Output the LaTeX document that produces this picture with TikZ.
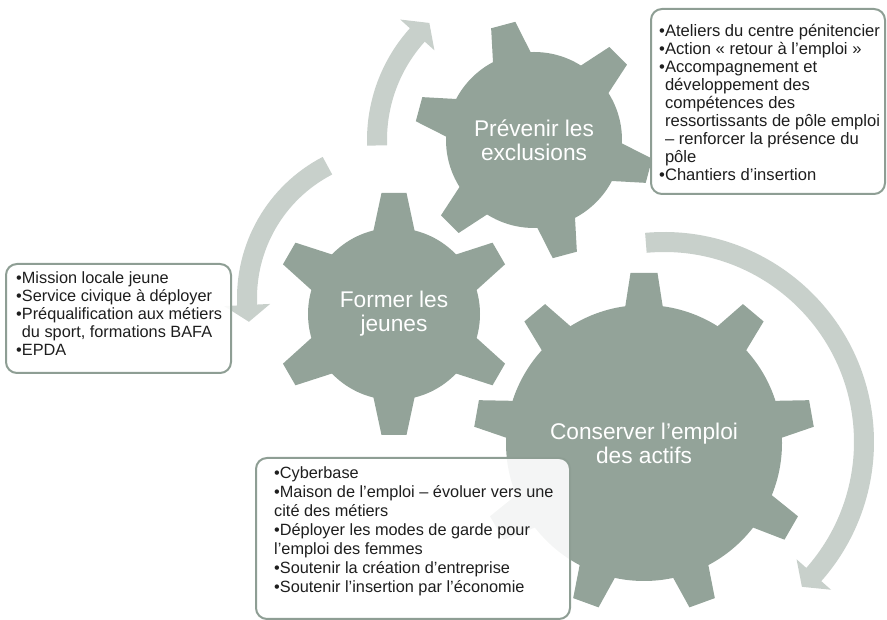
\documentclass[tikz,border=0pt]{standalone}
\usepackage{fontspec}
\setmainfont{Liberation Sans}
\usetikzlibrary{calc}

\definecolor{gearfill}{HTML}{93A399}
\definecolor{arrowfill}{HTML}{C8D0CB}
\definecolor{boxline}{HTML}{8E9E94}
\definecolor{boxtext}{HTML}{1E1E1E}

% gear: centre, body radius, outer radius, number of teeth, first tooth angle,
% half width at the tip, half width at the root
\newcommand\gearshape[7]{%
  \begin{scope}[shift={(#1)}]
    \fill[gearfill] (0,0) circle[radius=#2];
    \pgfmathsetmacro\gstep{360/#4}
    \pgfmathsetmacro\wext{#7+(#7-#6)*10/(#3-#2)}
    \foreach \k in {1,...,#4}{
      \pgfmathsetmacro\ga{#5+(\k-1)*\gstep}
      \fill[gearfill, rotate=\ga] (#2-10,-\wext) -- (#3,-#6) -- (#3,#6) -- (#2-10,\wext) -- cycle;
    }
  \end{scope}}

% curved arrow: centre, radius, start angle, end of shaft, head base angle, tip angle
\newcommand\ringarrow[6]{%
  \draw[arrowfill, line width=20pt] ($(#1)+(#3:#2)$) arc[start angle=#3, end angle=#4, radius=#2];
  \fill[arrowfill, shift={(#1)}] (#5:#2-23) -- (#6:#2) -- (#5:#2+23) -- cycle;}

\newcommand\ind{\hphantom{•}}

\begin{document}
\begin{tikzpicture}[x=1pt,y=1pt,
  gearlabel/.style={text=white, align=center, inner sep=0pt,
    font=\fontsize{22.7}{24}\selectfont},
  infobox/.style={draw=boxline, line width=2pt, rounded corners=11pt,
    fill=white, fill opacity=0.9, anchor=north west, inner sep=0pt},
  boxcontent/.style={text=boxtext, align=left, anchor=north west, inner sep=0pt,
    font=\fontsize{16.3}{18}\selectfont},
]
\useasboundingbox (0,0) rectangle (887,620);

% gear centres
\coordinate (g1) at (534,480);
\coordinate (g2) at (394,306);
\coordinate (g3) at (644,177);
\coordinate (ca) at (534,480);
\coordinate (cb) at (396,322);
\coordinate (cc) at (664,178);

% circular arrows
\ringarrow{ca}{157}{182}{137.5}{138}{131.8}
\ringarrow{cb}{149}{117.4}{183.2}{182.7}{189.2}
\ringarrow{cc}{200}{95.2}{-42}{-41.5}{-46.4}

% gears
\gearshape{g1}{88}{119}{6}{45}{12.5}{19}
\gearshape{g2}{86}{121}{6}{90}{12.5}{20}
\gearshape{g3}{138}{170}{9}{90}{13.5}{18.5}

\node[gearlabel] (l1) at (g1) {Prévenir les\\exclusions};
\node[gearlabel] (l2) at (g2) {Former les\\jeunes};
\node[gearlabel] (l3) at (g3) {Conserver l’emploi\\des actifs};

% information boxes
\node[infobox, minimum width=234pt, minimum height=185pt] (b1) at (650,612) {};
\node[infobox, minimum width=225pt, minimum height=109pt] (b2) at (5,357) {};
\node[infobox, minimum width=314pt, minimum height=161pt] (b3) at (255,163) {};

\node[boxcontent, font=\fontsize{16.6}{18}\selectfont] (t1) at ([xshift=9pt,yshift=-16pt]b1.north west)
  {•Ateliers du centre pénitencier\\
   •Action « retour à l’emploi »\\
   •Accompagnement et\\
   \ind développement des\\
   \ind compétences des\\
   \ind ressortissants de pôle emploi\\
   \ind – renforcer la présence du\\
   \ind pôle\\
   •Chantiers d’insertion};

\node[boxcontent] (t2) at ([xshift=11pt,yshift=-8pt]b2.north west)
  {•Mission locale jeune\\
   •Service civique à déployer\\
   •Préqualification aux métiers\\
   \ind du sport, formations BAFA\\
   •EPDA};

\node[boxcontent, font=\fontsize{16.3}{19}\selectfont] (t3) at ([xshift=19pt,yshift=-9pt]b3.north west)
  {•Cyberbase\\
   •Maison de l’emploi – évoluer vers une\\
   cité des métiers\\
   •Déployer les modes de garde pour\\
   l’emploi des femmes\\
   •Soutenir la création d’entreprise\\
   •Soutenir l’insertion par l’économie};
\end{tikzpicture}
\end{document}
